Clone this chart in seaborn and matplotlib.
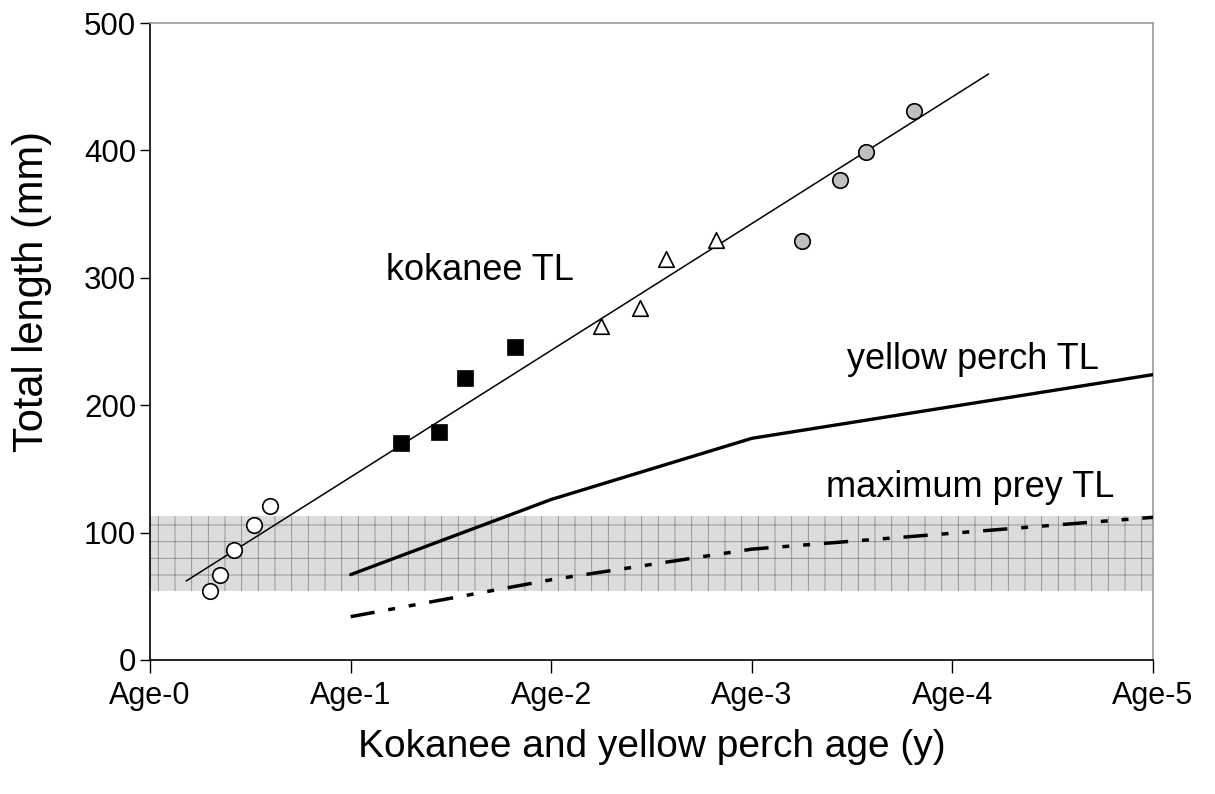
import matplotlib
matplotlib.use("Agg")
import matplotlib.pyplot as plt
import seaborn as sns
import pandas as pd
import numpy as np

# ---- data ----
age0_x = [0.30, 0.35, 0.42, 0.52, 0.60]
age0_y = [54, 67, 86, 106, 121]
age1_x = [1.25, 1.44, 1.57, 1.82]
age1_y = [170, 179, 221, 246]
age2_x = [2.25, 2.44, 2.57, 2.82]
age2_y = [262, 276, 315, 330]
age3_x = [3.25, 3.44, 3.57, 3.81]
age3_y = [329, 377, 399, 431]

trend_x = [0.18, 4.18]
trend_y = [62, 460]

perch_age = [1, 2, 3, 5]
perch_tl = [67, 126, 174, 224]
prey_tl = [34, 63, 87, 112]

band_low = 54
band_high = 113

xtick_labels = ["Age-0", "Age-1", "Age-2", "Age-3", "Age-4", "Age-5"]
ytick_values = [0, 100, 200, 300, 400, 500]

sns.set_theme(style="ticks")
plt.rcParams["font.family"] = ["Liberation Sans", "DejaVu Sans"]
plt.rcParams["hatch.linewidth"] = 0.6
plt.rcParams["text.color"] = "black"
plt.rcParams["axes.labelcolor"] = "black"
plt.rcParams["xtick.color"] = "black"
plt.rcParams["ytick.color"] = "black"

fig = plt.figure(figsize=(12.15, 7.94), dpi=100)
ax = fig.add_axes([0.1235, 0.1688, 0.949 - 0.1235, 0.971 - 0.1688])

# shaded band
ax.fill_between([0, 5], [band_low, band_low], [band_high, band_high],
                facecolor="#dcdcdc", edgecolor="#8a8a8a", hatch="+",
                linewidth=0, zorder=1)

# trend line
sns.lineplot(x=trend_x, y=trend_y, ax=ax, color="black", linewidth=1.1,
             zorder=3, legend=False)

# perch and prey lines
sns.lineplot(x=perch_age, y=perch_tl, ax=ax, color="black", linewidth=2.4,
             zorder=3, legend=False)
sns.lineplot(x=perch_age, y=prey_tl, ax=ax, color="black",
             linewidth=2.5, zorder=3, legend=False)
ax.lines[-1].set_linestyle((0, (7.0, 4.0, 2.0, 4.0, 2.0, 4.0)))
ax.lines[-1].set_dash_capstyle("butt")

# scatter points
ms = 125
sns.scatterplot(x=age0_x, y=age0_y, ax=ax, marker="o", s=ms,
                facecolor="white", edgecolor="black", linewidth=1.2, zorder=4)
sns.scatterplot(x=age1_x, y=age1_y, ax=ax, marker="s", s=130,
                color="black", edgecolor="black", linewidth=0.5, zorder=4)
sns.scatterplot(x=age2_x, y=age2_y, ax=ax, marker="^", s=ms,
                facecolor="white", edgecolor="black", linewidth=1.2, zorder=4)
sns.scatterplot(x=age3_x, y=age3_y, ax=ax, marker="o", s=ms,
                facecolor="#c0c0c0", edgecolor="black", linewidth=1.2, zorder=4)

# annotations
ax.text(1.645, 306, "kokanee TL", fontsize=26, ha="center", va="center")
ax.text(4.1, 236, "yellow perch TL", fontsize=26, ha="center", va="center")
ax.text(4.09, 135, "maximum prey TL", fontsize=26, ha="center", va="center")

ax.set_xlim(0, 5)
ax.set_ylim(0, 500)
ax.set_xticks(range(6))
ax.set_xticklabels(xtick_labels, fontsize=22)
ax.set_yticks(ytick_values)
ax.tick_params(axis="x", direction="out", length=9, width=1.0, pad=6)
ax.tick_params(axis="y", direction="out", length=7, width=1.0,
               labelsize=22.5, pad=3)
ax.set_xlabel("Kokanee and yellow perch age (y)", fontsize=28)
ax.xaxis.set_label_coords(0.5, -0.108)
ax.set_ylabel("Total length (mm)", fontsize=30)
ax.yaxis.set_label_coords(-0.098, 0.578)

for side in ["left", "bottom"]:
    ax.spines[side].set_color("black")
    ax.spines[side].set_linewidth(1.2)
for side in ["top", "right"]:
    ax.spines[side].set_visible(True)
    ax.spines[side].set_color("#9a9a9a")
    ax.spines[side].set_linewidth(1.2)

ax.set_facecolor("white")
fig.patch.set_facecolor("white")
fig.savefig("out.png", dpi=100)
